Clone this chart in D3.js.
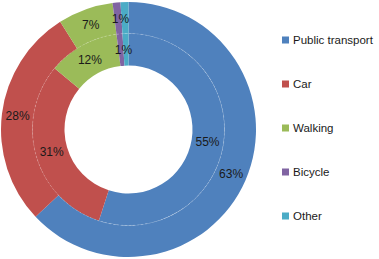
<!DOCTYPE html>
<html><head><meta charset="utf-8">
<script src="https://cdn.jsdelivr.net/npm/d3@7"></script>
<style>body{margin:0;background:#fff}svg{display:block}</style>
</head><body><div id="chart"></div>
<script>
const categories = ["Public transport", "Car", "Walking", "Bicycle", "Other"];
const innerValues = [55, 31, 12, 1, 1];
const outerValues = [63, 28, 7, 1, 1];
const colors = ["#4F81BD", "#C0504D", "#9BBB59", "#8064A2", "#4BACC6"];
const labelShown = [true, true, true, true, false];

const W = 379, H = 259;
const cx = 128.5, cy = 129.5;
const rHole = 64, rMid = 96, rOuter = 127.5;
const font = "'Liberation Sans', Arial, sans-serif";

const svg = d3.select("#chart").append("svg").attr("width", W).attr("height", H);
const g = svg.append("g").attr("transform", `translate(${cx},${cy})`);
const color = d3.scaleOrdinal().domain(categories).range(colors);
const pie = d3.pie().sort(null).value(d => d.v);

function ring(values, r0, r1) {
  const data = pie(categories.map((c, i) => ({c, v: values[i], i})));
  const arc = d3.arc().innerRadius(r0).outerRadius(r1);
  const gg = g.append("g");
  gg.selectAll("path").data(data).join("path")
    .attr("d", arc).attr("fill", d => color(d.data.c));
  return {gg, data, r: (r0 + r1) / 2};
}
const rings = [ring(innerValues, rHole, rMid), ring(outerValues, rMid, rOuter)];

g.append("circle").attr("r", rMid).attr("fill", "none")
  .attr("stroke", "rgba(255,255,255,0.2)").attr("stroke-width", 1)
  .attr("stroke-dasharray", "2,2");

rings.forEach(({gg, data, r}) => {
  const la = d3.arc().innerRadius(r).outerRadius(r);
  gg.selectAll("text").data(data.filter(d => labelShown[d.data.i])).join("text")
    .attr("transform", d => { const p = la.centroid(d); const dx = d.data.i === 3 ? 2.5 : 0; return `translate(${p[0] + dx},${p[1]})`; })
    .attr("text-anchor", "middle").attr("dy", "0.36em")
    .attr("font-family", font).attr("font-size", 12).attr("fill", "#1a1a1a")
    .text(d => d.data.v + "%");
});

const y = d3.scalePoint().domain(categories).range([40, 216]);
const leg = svg.append("g");
const items = leg.selectAll("g").data(categories).join("g")
  .attr("transform", d => `translate(282,${y(d)})`);
items.append("rect").attr("x", 0).attr("y", -3.5).attr("width", 7).attr("height", 7)
  .attr("fill", d => color(d));
items.append("text").attr("x", 11).attr("dy", "0.36em")
  .attr("font-family", font).attr("font-size", 11.5).attr("fill", "#1a1a1a").text(d => d);
</script></body></html>
